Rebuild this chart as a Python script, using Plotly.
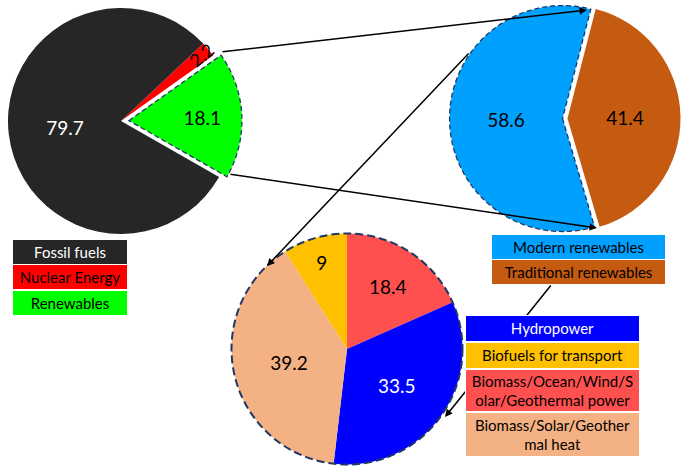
import numpy as np
import plotly.graph_objects as go

W, H = 685, 471
FONT = "Lato"
OUTLINE = "#1F3864"

# ---- data -------------------------------------------------------------
energy_labels = ["Fossil fuels", "Nuclear Energy", "Renewables"]
energy_values = [79.7, 2.2, 18.1]
energy_colors = ["#262626", "#FF0000", "#00FF00"]
energy_text = ["white", "black", "black"]

renew_labels = ["Modern renewables", "Traditional renewables"]
renew_values = [58.6, 41.4]
renew_colors = ["#00A0FF", "#C55A11"]
renew_text = ["black", "black"]

modern_labels = ["Hydropower", "Biofuels for transport",
                 "Biomass/Ocean/Wind/S<br>olar/Geothermal power",
                 "Biomass/Solar/Geother<br>mal heat"]
modern_values = [33.5, 9, 18.4, 39.2]
modern_colors = ["#0000FF", "#FFC000", "#FF5050", "#F4B183"]
modern_text = ["white", "black", "black", "black"]


def px_x(x):
    return x / W


def px_y(y):
    return 1 - y / H


def pie_domain(cx, cy, r, pull):
    R = r * (1 + pull)
    return dict(x=[(cx - R) / W, (cx + R) / W], y=[1 - (cy + R) / H, 1 - (cy - R) / H])


def pick(seq, order):
    return [seq[i] for i in order]


def slice_path(cx, cy, r, a0, a1, pull=0.0):
    """Outline of one pie slice (angles clockwise from 12 o'clock, degrees)."""
    mid = np.radians((a0 + a1) / 2)
    ox = cx + pull * r * np.sin(mid)
    oy = cy - pull * r * np.cos(mid)
    ang = np.radians(np.linspace(a0, a1, 80))
    xs = ox + r * np.sin(ang)
    ys = oy - r * np.cos(ang)
    path = f"M {px_x(ox):.5f},{px_y(oy):.5f}"
    for x, y in zip(xs, ys):
        path += f" L {px_x(x):.5f},{px_y(y):.5f}"
    return path + " Z"


fig = go.Figure()

# ---- pie 1 : world energy ----------------------------------------------
c1x, c1y, r1, pull1 = 121, 121, 113, 0.07
tot1 = sum(energy_values)
order1 = [1, 2, 0]
green_mid = 87.2
rot1 = green_mid - 180 * energy_values[2] / tot1 - 360 * energy_values[1] / tot1
fig.add_trace(go.Pie(
    labels=pick(energy_labels, order1), values=pick(energy_values, order1),
    marker=dict(colors=pick(energy_colors, order1), line=dict(width=0)),
    sort=False, direction="clockwise", rotation=rot1,
    pull=[0, pull1, 0], textinfo="value",
    textposition=["none", "inside", "inside"],
    insidetextorientation="horizontal",
    textfont=dict(family=FONT, size=19, color=pick(energy_text, order1)),
    domain=pie_domain(c1x, c1y, r1, pull1), showlegend=False, hoverinfo="skip",
))
g0 = rot1 + 360 * energy_values[1] / tot1
g1 = g0 + 360 * energy_values[2] / tot1

# ---- pie 2 : renewables split ------------------------------------------
c2x, c2y, r2, pull2 = 565, 118.5, 113, 0.022
tot2 = sum(renew_values)
trad_mid = 89
rot2 = trad_mid + 180 * renew_values[1] / tot2
fig.add_trace(go.Pie(
    labels=renew_labels, values=renew_values,
    marker=dict(colors=renew_colors, line=dict(width=0)),
    sort=False, direction="clockwise", rotation=rot2,
    pull=[pull2, pull2], textinfo="value", textposition="inside",
    insidetextorientation="horizontal",
    textfont=dict(family=FONT, size=19, color=renew_text),
    domain=pie_domain(c2x, c2y, r2, pull2), showlegend=False, hoverinfo="skip",
))
b0 = rot2
b1 = rot2 + 360 * renew_values[0] / tot2

# ---- pie 3 : modern renewables -----------------------------------------
c3x, c3y, r3 = 347, 349, 115.5
order3 = [2, 0, 3, 1]
fig.add_trace(go.Pie(
    labels=pick(modern_labels, order3), values=pick(modern_values, order3),
    marker=dict(colors=pick(modern_colors, order3), line=dict(width=0)),
    sort=False, direction="clockwise", rotation=0,
    textinfo="value", textposition="inside",
    insidetextorientation="horizontal",
    textfont=dict(family=FONT, size=19, color=pick(modern_text, order3)),
    domain=pie_domain(c3x, c3y, r3, 0), showlegend=False, hoverinfo="skip",
))

# dashed outlines
thin_dash = dict(color=OUTLINE, width=1.3, dash="5px,3px")
thick_dash = dict(color=OUTLINE, width=2, dash="8px,4px")
shapes = [
    dict(type="path", xref="paper", yref="paper", path=slice_path(c1x, c1y, r1, g0, g1, pull1),
         line=thin_dash, layer="above"),
    dict(type="path", xref="paper", yref="paper", path=slice_path(c2x, c2y, r2, b0, b1, pull2),
         line=thin_dash, layer="above"),
    dict(type="circle", xref="paper", yref="paper",
         x0=px_x(c3x - r3), x1=px_x(c3x + r3), y0=px_y(c3y + r3), y1=px_y(c3y - r3),
         line=thick_dash, layer="above"),
]

annotations = []

# "2.2" label on the thin nuclear slice
n_mid = rot1 + 180 * energy_values[1] / tot1
nx = c1x + 0.92 * r1 * np.sin(np.radians(n_mid))
ny = c1y - 0.92 * r1 * np.cos(np.radians(n_mid))
annotations.append(dict(
    text=str(energy_values[1]), x=px_x(nx), y=px_y(ny), xref="paper", yref="paper",
    xanchor="center", yanchor="middle",
    showarrow=False, textangle=-(90 - n_mid), font=dict(family=FONT, size=18, color="black"),
))

# zoom arrows (tail -> head, pixels)
arrows = [
    ((221, 52), (587, 10)),
    ((229, 174), (597, 228)),
    ((470, 52), (267, 266)),
    ((552, 284), (445, 417)),
]
for (tx, ty), (hx, hy) in arrows:
    annotations.append(dict(
        text="", x=px_x(hx), y=px_y(hy), xref="paper", yref="paper",
        ax=tx - hx, ay=ty - hy, showarrow=True, arrowhead=2, arrowsize=1,
        arrowwidth=1.5, arrowcolor="black", standoff=0, startstandoff=0,
    ))


def legend_box(labels, colors, textcolors, x0, x1, edges):
    for i, lab in enumerate(labels):
        y0, y1 = edges[i], edges[i + 1]
        annotations.append(dict(
            text=lab, x=px_x((x0 + x1) / 2), y=px_y((y0 + y1) / 2),
            xref="paper", yref="paper", xanchor="center", yanchor="middle",
            width=x1 - x0 - 2, height=y1 - y0 - 2, bgcolor=colors[i],
            bordercolor="white", borderwidth=1, borderpad=0,
            showarrow=False, align="center", valign="middle",
            font=dict(family=FONT, size=15, color=textcolors[i]),
        ))


legend_box(energy_labels, energy_colors, energy_text, 12, 128, [239, 264.5, 290, 316])
legend_box(renew_labels, renew_colors, renew_text, 491, 666, [234, 259.5, 285])
legend_box(modern_labels, modern_colors, modern_text, 465, 640, [315, 341.7, 368.3, 411.7, 457])

fig.update_layout(
    width=W, height=H,
    margin=dict(l=0, r=0, t=0, b=0),
    paper_bgcolor="white", plot_bgcolor="white",
    shapes=shapes, annotations=annotations,
    font=dict(family=FONT),
)

# drop the browser's default 8px body margin so the figure sits at the page corner
fig.write_html("out.html", config={"displayModeBar": False},
               post_script="document.body.style.margin='0px';")
